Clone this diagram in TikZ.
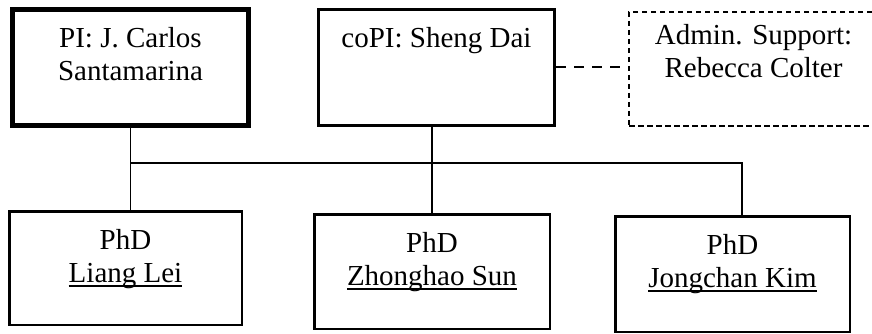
\documentclass[tikz,border=0pt]{standalone}
\usepackage{fontspec}
\setmainfont{Liberation Serif}
\newcommand{\nameline}[1]{{\setbox0\hbox{#1}\rlap{\rule[-4.5pt]{\wd0}{1.4pt}}\box0}}

\begin{document}
\begin{tikzpicture}[x=1pt,y=-1pt,
  box/.style={draw,rectangle,inner sep=0pt,line width=2.5pt},
  txt/.style={anchor=north,inner sep=0pt,align=center,font=\fontsize{29}{33}\selectfont},
  link/.style={line width=1.2pt}]
\clip (0,0) rectangle (872,334);
% top row
\node[box,line width=5.5pt,minimum width=236pt,minimum height=116pt,
  label={[txt,yshift=-20pt]north:{PI: J. Carlos\\Santamarina}}] (pi) at (130.5,67.5) {};
\node[box,line width=3.2pt,minimum width=236pt,minimum height=116pt,
  label={[txt,yshift=-19pt]north:{coPI: Sheng Dai}}] (copi) at (436.5,67.5) {};
\node[box,line width=2pt,dash pattern=on 5.5pt off 3.5pt,minimum width=249pt,minimum height=114pt,
  label={[txt,yshift=-13pt]north:{Admin. Support:\\Rebecca Colter}}] (admin) at (753.5,69) {};
% students
\node[box,minimum width=232.5pt,minimum height=113.5pt,
  label={[txt,yshift=-19pt]north:{PhD\\\nameline{Liang Lei}}}] (lei) at (125.5,268) {};
\node[box,minimum width=235.5pt,minimum height=114.5pt,
  label={[txt,yshift=-19pt]north:{PhD\\\nameline{Zhonghao Sun}}}] (sun) at (432,271.5) {};
\node[box,minimum width=234.5pt,minimum height=115.5pt,
  label={[txt,yshift=-19pt]north:{PhD\\\nameline{Jongchan Kim}}}] (kim) at (732.5,274) {};
% links
\coordinate (bus) at (742,163);
\draw[link] (pi.south) -- (pi.south |- lei.north);
\draw[link] (pi.south |- bus) -- (bus) -- (bus |- kim.north);
\draw[link] (sun.north |- copi.south) -- (sun.north);
\draw[line width=2pt,dash pattern=on 10pt off 8pt] (copi.east) -- (copi.east -| admin.west);
\end{tikzpicture}
\end{document}
